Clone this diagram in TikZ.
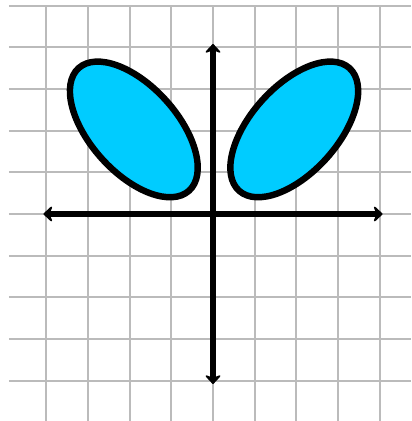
\documentclass[tikz,border=0pt]{standalone}
\usepackage{xcolor}
\usepackage{tikz}
\usetikzlibrary{arrows.meta}
\definecolor{petalblue}{HTML}{00CCFF}
\definecolor{gridgray}{HTML}{BBBBBB}

\begin{document}
\begin{tikzpicture}[>={Stealth[round, length=7pt, width=13pt, inset=2.5pt]},
    gridline/.style={gridgray, line width=1.3pt},
    axisline/.style={<->, black, line width=4pt},
    petal/.style={fill=petalblue, draw=black, line width=4.4pt}]
        \useasboundingbox (-5.112,-4.968) rectangle (4.752,5.136);

        % grid
        \foreach \x in {-4,...,4}
            \draw[gridline] (\x,-4.968) -- (\x,4.97);
        \foreach \y in {-4,...,5}
            \draw[gridline] (-4.9,\y) -- (4.752,\y);

        % petals
        \draw[petal, rotate around={-48:(-1.9,2.03)}] (-1.9,2.03) ellipse [x radius=1.98, y radius=1.04];
        \draw[petal, rotate around={48:(1.95,2.03)}] (1.95,2.03) ellipse [x radius=1.98, y radius=1.04];

        % axes
        \coordinate (xmin) at (-4.07,0);
        \coordinate (xmax) at (4.07,0);
        \coordinate (ymin) at (0,-4.08);
        \coordinate (ymax) at (0,4.08);
        \draw[axisline] (xmin) -- (xmax);
        \draw[axisline] (ymin) -- (ymax);
    \end{tikzpicture}
\end{document}
